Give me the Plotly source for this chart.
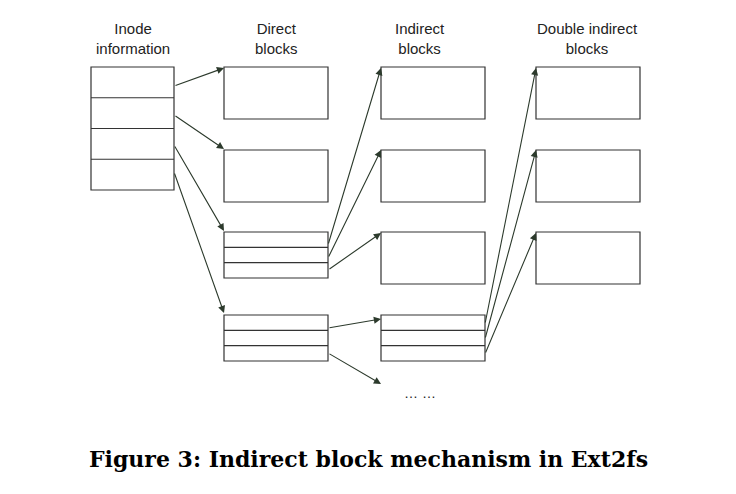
import plotly.graph_objects as go

# column headers: (x centre, text)
col_x = [133, 276, 420, 587]
col_labels = ["Inode<br>information", "Direct<br>blocks", "Indirect<br>blocks", "Double indirect<br>blocks"]

# boxes: (x0, x1, y0, y1, number of rows)
boxes = [
    (91, 174, 67, 190, 4),
    (224, 328, 67, 119, 1), (224, 328, 150, 202, 1),
    (224, 328, 232, 278, 3), (224, 328, 315, 361, 3),
    (381, 485, 67, 119, 1), (381, 485, 150, 202, 1),
    (381, 485, 232, 284, 1), (381, 485, 315, 361, 3),
    (536, 640, 67, 119, 1), (536, 640, 150, 202, 1), (536, 640, 232, 284, 1),
]

# arrows: (from x, from y, to x, to y)
arrows = [
    (174, 86, 224, 68), (174, 115, 224, 149), (174, 145, 224, 231), (174, 172, 224, 313),
    (328, 245, 381, 68), (328, 258, 381, 150), (328, 270, 381, 233),
    (328, 328, 381, 319), (328, 353, 381, 384),
    (485, 324, 536, 68), (485, 339, 536, 150), (485, 354, 536, 233),
]

line_col = "#333333"
arrow_col = "#2c3a2c"

fig = go.Figure()
fig.add_trace(go.Scatter(x=[10, 700], y=[10, 480], mode="markers", marker=dict(opacity=0),
                         hoverinfo="skip", showlegend=False))

for x0, x1, y0, y1, n in boxes:
    fig.add_shape(type="rect", x0=x0, x1=x1, y0=y0, y1=y1,
                  line=dict(color=line_col, width=1.2), fillcolor="white")
    h = (y1 - y0) / n
    for i in range(1, n):
        fig.add_shape(type="line", x0=x0, x1=x1, y0=y0 + i * h, y1=y0 + i * h,
                      line=dict(color=line_col, width=1.2))

for fx, fy, tx, ty in arrows:
    fig.add_annotation(x=tx, y=ty, ax=fx, ay=fy, xref="x", yref="y", axref="x", ayref="y",
                       text="", showarrow=True, arrowhead=2, arrowsize=1.3, arrowwidth=1.1,
                       arrowcolor=arrow_col)

for cx, lab in zip(col_x, col_labels):
    fig.add_annotation(x=cx, y=38, text=lab, showarrow=False,
                       font=dict(family="Liberation Sans, Arial", size=15, color="#222"))

fig.add_annotation(x=420, y=393, text="… …", showarrow=False,
                   font=dict(family="Liberation Sans, Arial", size=14, color="#222"))
fig.add_annotation(x=368, y=459, text="<b>Figure 3: Indirect block mechanism in Ext2fs</b>",
                   showarrow=False,
                   font=dict(family="DejaVu Serif", size=22, color="black"))

# offset ranges by 8px to compensate for the page's default body margin
fig.update_xaxes(range=[8, 744], visible=False)
fig.update_yaxes(range=[502, 8], visible=False)
fig.update_layout(width=736, height=494, margin=dict(l=0, r=0, t=0, b=0),
                  plot_bgcolor="white", paper_bgcolor="white")
fig.write_html("out.html")
